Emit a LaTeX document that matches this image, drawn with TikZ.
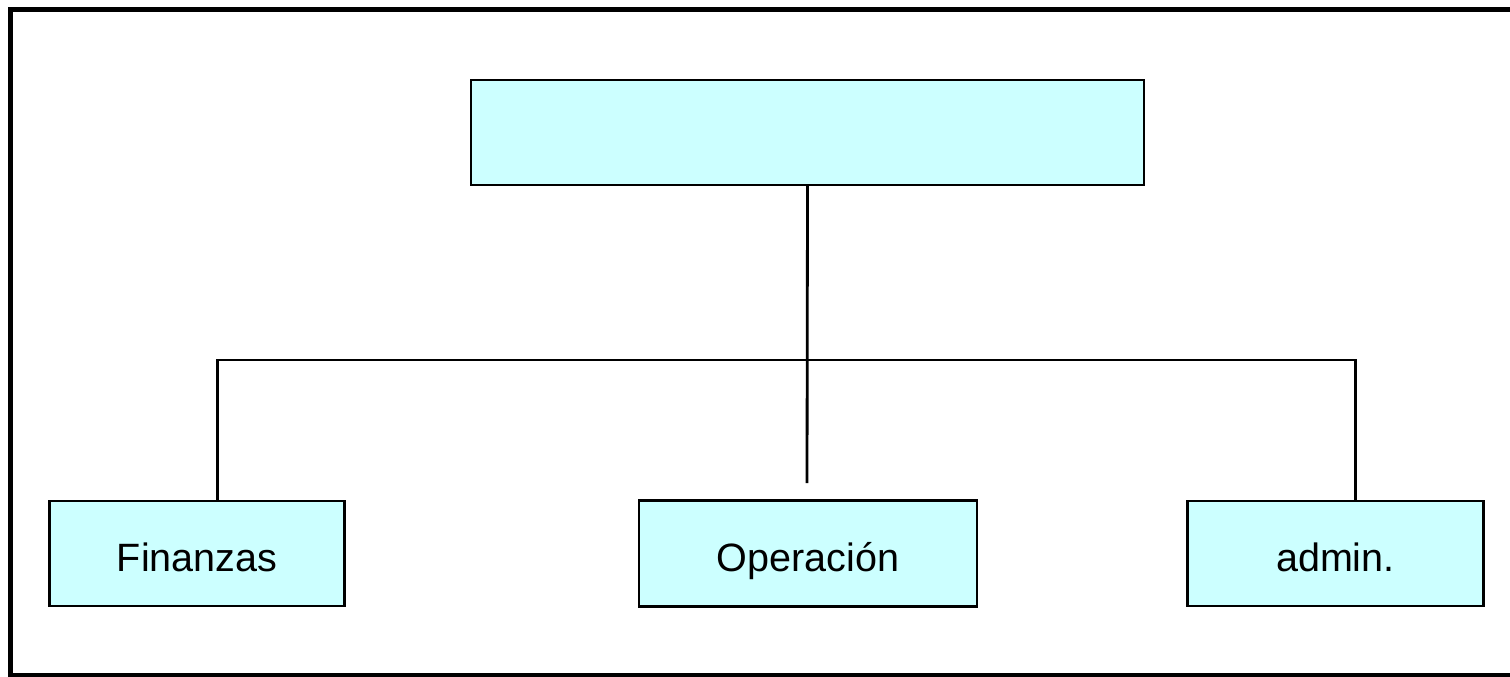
\documentclass[tikz,border=0pt]{standalone}
\usepackage{fontspec}
\setmainfont{Liberation Sans}
\usetikzlibrary{positioning,calc}
\definecolor{boxcyan}{RGB}{204,255,255}

\begin{document}
\begin{tikzpicture}[x=0.02cm,y=-0.02cm,
    unitbox/.style={rectangle, draw, fill=boxcyan, line width=1.4pt, inner sep=0pt, text height=21pt, text depth=0pt, font=\fontsize{22.5}{26}\selectfont},
    toplink/.style={line width=1.6pt}]
        \useasboundingbox (0,0) rectangle (1510,676);
        % Frame
        \draw[line width=2.8pt] (10.5,9.5) rectangle (1540,675.5);

        % Nodes
        \node [unitbox, minimum width=13.46cm, minimum height=2.1cm] (head) at (807.5,132.5) {};
        \node [unitbox, minimum width=6.76cm, minimum height=2.12cm] (oper) at (808,553.5) {Operación};
        \node [unitbox, minimum width=5.9cm, minimum height=2.1cm, left=5.84cm of oper] (fin) {Finanzas};
        \node [unitbox, minimum width=5.92cm, minimum height=2.1cm, right=4.16cm of oper] (adm) {admin.};

        \coordinate (bar) at (807,360);
        \coordinate (stub) at (807,483);

        % Lines
        \draw[toplink] (head.south) -- (stub);
        \draw[toplink] ([xshift=0.41cm]fin.north) |- (bar) -| ([xshift=0.41cm]adm.north);

        \end{tikzpicture}
\end{document}
